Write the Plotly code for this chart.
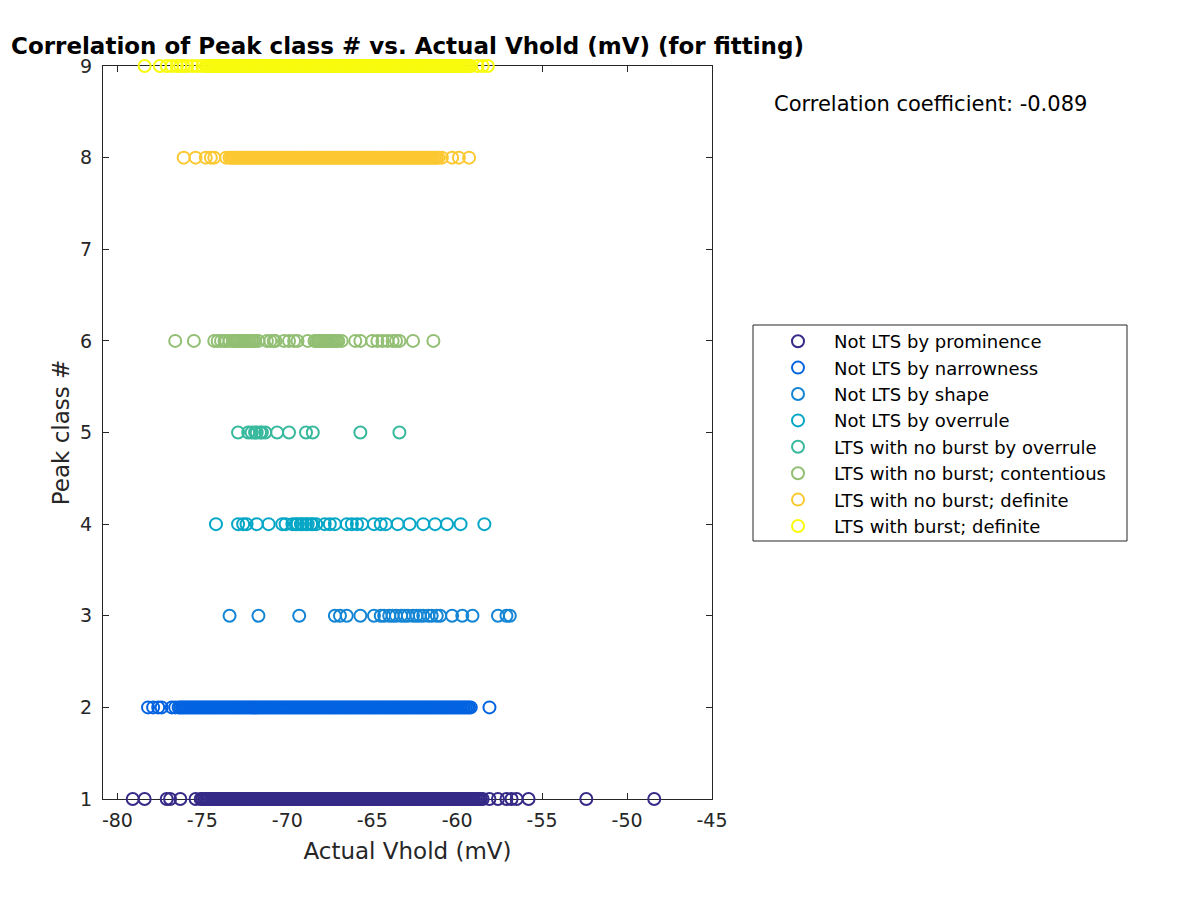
import plotly.graph_objects as go

# Actual Vhold (mV) of each peak, grouped by peak class
vhold_cls1 = [
    -79.1, -78.4, -77.1, -76.9, -76.3, -75.4,
    -75.1, -75.0, -74.9, -74.8, -74.7, -74.6, -74.5, -74.4, -74.3, -74.2, -74.1, -74.0,
    -73.9, -73.8, -73.7, -73.6, -73.5, -73.4, -73.3, -73.2, -73.1, -73.0,
    -72.9, -72.8, -72.7, -72.6, -72.5, -72.4, -72.3, -72.2, -72.1, -72.0,
    -71.9, -71.8, -71.7, -71.6, -71.5, -71.4, -71.3, -71.2, -71.1, -71.0,
    -70.9, -70.8, -70.7, -70.6, -70.5, -70.4, -70.3, -70.2, -70.1, -70.0,
    -69.9, -69.8, -69.7, -69.6, -69.5, -69.4, -69.3, -69.2, -69.1, -69.0,
    -68.9, -68.8, -68.7, -68.6, -68.5, -68.4, -68.3, -68.2, -68.1, -68.0,
    -67.9, -67.8, -67.7, -67.6, -67.5, -67.4, -67.3, -67.2, -67.1, -67.0,
    -66.9, -66.8, -66.7, -66.6, -66.5, -66.4, -66.3, -66.2, -66.1, -66.0,
    -65.9, -65.8, -65.7, -65.6, -65.5, -65.4, -65.3, -65.2, -65.1, -65.0,
    -64.9, -64.8, -64.7, -64.6, -64.5, -64.4, -64.3, -64.2, -64.1, -64.0,
    -63.9, -63.8, -63.7, -63.6, -63.5, -63.4, -63.3, -63.2, -63.1, -63.0,
    -62.9, -62.8, -62.7, -62.6, -62.5, -62.4, -62.3, -62.2, -62.1, -62.0,
    -61.9, -61.8, -61.7, -61.6, -61.5, -61.4, -61.3, -61.2, -61.1, -61.0,
    -60.9, -60.8, -60.7, -60.6, -60.5, -60.4, -60.3, -60.2, -60.1, -60.0,
    -59.9, -59.8, -59.7, -59.6, -59.5, -59.4, -59.3, -59.2, -59.1, -59.0,
    -58.9, -58.8, -58.7, -58.6, -58.5,
    -58.1, -57.6, -57.1, -56.8, -56.5, -55.8, -52.4, -48.4,
]
vhold_cls2 = [
    -78.2, -77.9, -77.6, -77.4, -76.8, -76.6,
    -76.4, -76.3, -76.2, -76.1, -76.0,
    -75.9, -75.8, -75.7, -75.6, -75.5, -75.4, -75.3, -75.2, -75.1, -75.0,
    -74.9, -74.8, -74.7, -74.6, -74.5, -74.4, -74.3, -74.2, -74.1, -74.0,
    -73.9, -73.8, -73.7, -73.6, -73.5, -73.4, -73.3, -73.2, -73.1, -73.0,
    -72.9, -72.8, -72.7, -72.6, -72.5, -72.4, -72.3, -72.2, -72.1, -72.0,
    -71.9, -71.8, -71.7, -71.6, -71.5, -71.4, -71.3, -71.2, -71.1, -71.0,
    -70.9, -70.8, -70.7, -70.6, -70.5, -70.4, -70.3, -70.2, -70.1, -70.0,
    -69.9, -69.8, -69.7, -69.6, -69.5, -69.4, -69.3, -69.2, -69.1, -69.0,
    -68.9, -68.8, -68.7, -68.6, -68.5, -68.4, -68.3, -68.2, -68.1, -68.0,
    -67.9, -67.8, -67.7, -67.6, -67.5, -67.4, -67.3, -67.2, -67.1, -67.0,
    -66.9, -66.8, -66.7, -66.6, -66.5, -66.4, -66.3, -66.2, -66.1, -66.0,
    -65.9, -65.8, -65.7, -65.6, -65.5, -65.4, -65.3, -65.2, -65.1, -65.0,
    -64.9, -64.8, -64.7, -64.6, -64.5, -64.4, -64.3, -64.2, -64.1, -64.0,
    -63.9, -63.8, -63.7, -63.6, -63.5, -63.4, -63.3, -63.2, -63.1, -63.0,
    -62.9, -62.8, -62.7, -62.6, -62.5, -62.4, -62.3, -62.2, -62.1, -62.0,
    -61.9, -61.8, -61.7, -61.6, -61.5, -61.4, -61.3, -61.2, -61.1, -61.0,
    -60.9, -60.8, -60.7, -60.6, -60.5, -60.4, -60.3, -60.2, -60.1, -60.0,
    -59.9, -59.8, -59.7, -59.6, -59.5, -59.4, -59.3, -59.2,
    -58.1,
]
vhold_cls3 = [
    -73.4, -71.7, -69.3, -67.2, -66.9, -66.5, -65.7, -64.9,
    -64.5, -64.3, -64.0, -63.8, -63.6, -63.3, -63.1, -62.9,
    -62.6, -62.4, -62.2, -62.0, -61.7, -61.5, -61.2, -61.0,
    -60.3, -59.7, -59.1, -57.6, -57.1, -56.9,
]
vhold_cls4 = [
    -74.2, -72.9, -72.6, -72.4, -71.8, -71.1, -70.3, -70.1,
    -69.7, -69.5, -69.4, -69.2, -69.1, -68.9, -68.8, -68.6, -68.5,
    -68.3, -67.8, -67.5, -67.2, -66.5, -66.2, -65.9, -65.6,
    -64.9, -64.5, -64.2, -63.5, -62.8, -62.0, -61.3, -60.6, -59.8, -58.4,
]
vhold_cls5 = [
    -72.9, -72.3, -72.1, -71.9, -71.8, -71.6, -71.5, -71.3,
    -70.6, -69.9, -68.9, -68.5, -65.7, -63.4,
]
vhold_cls6 = [
    -76.6, -75.5, -74.3, -74.1, -73.9, -73.7, -73.6, -73.4,
    -73.2, -73.1, -73.0, -72.9, -72.8, -72.7, -72.6, -72.5, -72.4,
    -72.3, -72.2, -72.1, -72.0, -71.9,
    -71.7, -71.2, -71.0, -70.8, -70.7, -70.2, -69.9, -69.6, -69.4,
    -68.8, -68.4, -68.3, -68.2, -68.1, -68.0, -67.9, -67.8, -67.7,
    -67.6, -67.5, -67.4, -67.3, -67.2, -67.1, -67.0,
    -66.8, -66.0, -65.7, -65.0, -64.7, -64.4, -64.1, -63.8, -63.6,
    -63.4, -62.6, -61.4,
]
vhold_cls8 = [
    -76.1, -75.4, -74.8, -74.5, -74.3, -73.6,
    -73.4, -73.3, -73.2, -73.1, -73.0,
    -72.9, -72.8, -72.7, -72.6, -72.5, -72.4, -72.3, -72.2, -72.1, -72.0,
    -71.9, -71.8, -71.7, -71.6, -71.5, -71.4, -71.3, -71.2, -71.1, -71.0,
    -70.9, -70.8, -70.7, -70.6, -70.5, -70.4, -70.3, -70.2, -70.1, -70.0,
    -69.9, -69.8, -69.7, -69.6, -69.5, -69.4, -69.3, -69.2, -69.1, -69.0,
    -68.9, -68.8, -68.7, -68.6, -68.5, -68.4, -68.3, -68.2, -68.1, -68.0,
    -67.9, -67.8, -67.7, -67.6, -67.5, -67.4, -67.3, -67.2, -67.1, -67.0,
    -66.9, -66.8, -66.7, -66.6, -66.5, -66.4, -66.3, -66.2, -66.1, -66.0,
    -65.9, -65.8, -65.7, -65.6, -65.5, -65.4, -65.3, -65.2, -65.1, -65.0,
    -64.9, -64.8, -64.7, -64.6, -64.5, -64.4, -64.3, -64.2, -64.1, -64.0,
    -63.9, -63.8, -63.7, -63.6, -63.5, -63.4, -63.3, -63.2, -63.1, -63.0,
    -62.9, -62.8, -62.7, -62.6, -62.5, -62.4, -62.3, -62.2, -62.1, -62.0,
    -61.9, -61.8, -61.7, -61.6, -61.5, -61.4, -61.3, -61.2, -61.1,
    -60.9, -60.3, -59.9, -59.3,
]
vhold_cls9 = [
    -78.4, -77.5, -77.1, -76.8, -76.5, -76.3, -76.1, -75.9, -75.6, -75.3, -75.0,
    -74.8, -74.7, -74.6, -74.5, -74.4, -74.3, -74.2, -74.1, -74.0,
    -73.9, -73.8, -73.7, -73.6, -73.5, -73.4, -73.3, -73.2, -73.1, -73.0,
    -72.9, -72.8, -72.7, -72.6, -72.5, -72.4, -72.3, -72.2, -72.1, -72.0,
    -71.9, -71.8, -71.7, -71.6, -71.5, -71.4, -71.3, -71.2, -71.1, -71.0,
    -70.9, -70.8, -70.7, -70.6, -70.5, -70.4, -70.3, -70.2, -70.1, -70.0,
    -69.9, -69.8, -69.7, -69.6, -69.5, -69.4, -69.3, -69.2, -69.1, -69.0,
    -68.9, -68.8, -68.7, -68.6, -68.5, -68.4, -68.3, -68.2, -68.1, -68.0,
    -67.9, -67.8, -67.7, -67.6, -67.5, -67.4, -67.3, -67.2, -67.1, -67.0,
    -66.9, -66.8, -66.7, -66.6, -66.5, -66.4, -66.3, -66.2, -66.1, -66.0,
    -65.9, -65.8, -65.7, -65.6, -65.5, -65.4, -65.3, -65.2, -65.1, -65.0,
    -64.9, -64.8, -64.7, -64.6, -64.5, -64.4, -64.3, -64.2, -64.1, -64.0,
    -63.9, -63.8, -63.7, -63.6, -63.5, -63.4, -63.3, -63.2, -63.1, -63.0,
    -62.9, -62.8, -62.7, -62.6, -62.5, -62.4, -62.3, -62.2, -62.1, -62.0,
    -61.9, -61.8, -61.7, -61.6, -61.5, -61.4, -61.3, -61.2, -61.1, -61.0,
    -60.9, -60.8, -60.7, -60.6, -60.5, -60.4, -60.3, -60.2, -60.1, -60.0,
    -59.9, -59.8, -59.7, -59.6, -59.5, -59.4, -59.3, -59.2,
    -58.8, -58.5, -58.2,
]

class_numbers = [1, 2, 3, 4, 5, 6, 8, 9]
class_labels = [
    'Not LTS by prominence',
    'Not LTS by narrowness',
    'Not LTS by shape',
    'Not LTS by overrule',
    'LTS with no burst by overrule',
    'LTS with no burst; contentious',
    'LTS with no burst; definite',
    'LTS with burst; definite',
]
class_vholds = [vhold_cls1, vhold_cls2, vhold_cls3, vhold_cls4,
                vhold_cls5, vhold_cls6, vhold_cls8, vhold_cls9]
class_colors = ['#352a87', '#0363e1', '#1485d4', '#06a7c6',
                '#38b99e', '#92bf73', '#fcc832', '#f9fb0e']

x_ticks = [-80, -75, -70, -65, -60, -55, -50, -45]
y_ticks = [1, 2, 3, 4, 5, 6, 7, 8, 9]
corr_coef = -0.089

AXIS_COLOR = '#262626'
FONT = 'DejaVu Sans, Arial, sans-serif'

# the page body adds an 8px margin, so work in page pixels and subtract it
OFF = 8
W, H = 1180, 880
# plot area in page pixels: x 103..712, y 66..799
L, R, T, B = 103 - OFF, 712 - OFF, 66 - OFF, 799 - OFF


def px_x(px):
    return (px - OFF - L) / (R - L)


def px_y(py):
    return (B - (py - OFF)) / (B - T)


fig = go.Figure()
for num, label, xs, color in zip(class_numbers, class_labels, class_vholds, class_colors):
    fig.add_trace(go.Scatter(
        x=xs,
        y=[num] * len(xs),
        mode='markers',
        name=label,
        legendgroup=label,
        marker=dict(symbol='circle-open', size=12, color=color,
                    line=dict(width=2, color=color)),
        cliponaxis=False,
    ))

fig.add_annotation(
    xref='paper', yref='paper', x=px_x(772), y=px_y(104),
    xanchor='left', yanchor='middle', showarrow=False,
    text=f'Correlation coefficient: {corr_coef:.3f}',
    font=dict(family=FONT, size=21, color='black'),
)

# legend frame
fig.add_shape(
    type='rect', xref='paper', yref='paper',
    x0=px_x(753), x1=px_x(1127), y0=px_y(541), y1=px_y(325),
    line=dict(color=AXIS_COLOR, width=1), fillcolor='white', layer='below',
)

fig.update_layout(
    width=W, height=H,
    margin=dict(l=L, r=W - R, t=T, b=H - B),
    plot_bgcolor='white', paper_bgcolor='white',
    font=dict(family=FONT, color=AXIS_COLOR),
    title=dict(
        text='<b>Correlation of Peak class # vs. Actual Vhold (mV) (for fitting)</b>',
        x=0.5, xanchor='center', xref='paper',
        y=1 - (46 - OFF) / H, yanchor='middle',
        font=dict(family=FONT, size=23, color='black'),
    ),
    showlegend=True,
    legend=dict(
        x=px_x(762), y=px_y(323), xanchor='left', yanchor='top',
        bgcolor='rgba(0,0,0,0)', borderwidth=0,
        font=dict(family=FONT, size=18, color='black'),
        itemwidth=62, tracegroupgap=0,
    ),
    xaxis=dict(
        range=[-80.85, -45], tickvals=x_ticks, ticktext=[str(v) for v in x_ticks],
        ticks='inside', ticklen=6, tickcolor=AXIS_COLOR, ticklabelstandoff=4,
        showline=True, linecolor=AXIS_COLOR, linewidth=1, mirror='ticks',
        showgrid=False, zeroline=False,
        tickfont=dict(size=19, color=AXIS_COLOR),
        title=dict(text='Actual Vhold (mV)', font=dict(size=23, color=AXIS_COLOR), standoff=13),
        layer='below traces',
    ),
    yaxis=dict(
        range=[1, 9], tickvals=y_ticks, ticktext=[str(v) for v in y_ticks],
        ticks='inside', ticklen=6, tickcolor=AXIS_COLOR, ticklabelstandoff=6,
        showline=True, linecolor=AXIS_COLOR, linewidth=1, mirror='ticks',
        showgrid=False, zeroline=False,
        tickfont=dict(size=19, color=AXIS_COLOR),
        title=dict(text='Peak class #', font=dict(size=23, color=AXIS_COLOR), standoff=4),
        layer='below traces',
    ),
)

fig.write_html('out.html')
